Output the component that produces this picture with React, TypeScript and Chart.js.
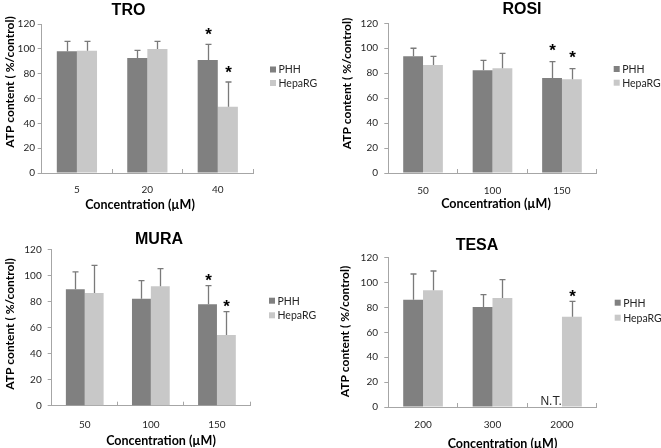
import React, { useEffect, useRef } from 'react';
import { Chart, registerables } from 'chart.js';

Chart.register(...registerables);

// ---------------- data ----------------
const seriesNames = ['PHH', 'HepaRG'];
const yMin = 0;
const yMax = 120;
const yStep = 20;

const troCategories = ['5', '20', '40'];
const troPHH = [98, 92.6, 91];
const troPHHErr = [8, 6.2, 12.6];
const troHepaRG = [98.5, 99.9, 53.4];
const troHepaRGErr = [7.5, 6.1, 19.9];
const troPHHSig = [false, false, true];
const troHepaRGSig = [false, false, true];

const rosiCategories = ['50', '100', '150'];
const rosiPHH = [93.5, 82.3, 76.2];
const rosiPHHErr = [6.5, 8, 13.1];
const rosiHepaRG = [86.6, 83.9, 75.1];
const rosiHepaRGErr = [6.9, 12, 8.5];
const rosiPHHSig = [false, false, true];
const rosiHepaRGSig = [false, false, true];

const muraCategories = ['50', '100', '150'];
const muraPHH = [89.5, 82.3, 78];
const muraPHHErr = [13.5, 13.9, 14.3];
const muraHepaRG = [86.7, 91.8, 54.4];
const muraHepaRGErr = [21.3, 13.6, 17.9];
const muraPHHSig = [false, false, true];
const muraHepaRGSig = [false, false, true];

const tesaCategories = ['200', '300', '2000'];
const tesaPHH = [86.3, 80.4, null];
const tesaPHHErr = [20.6, 9.9, null];
const tesaHepaRG = [93.8, 87.6, 72.6];
const tesaHepaRGErr = [15.5, 14.7, 12.3];
const tesaPHHSig = [false, false, false];
const tesaHepaRGSig = [false, false, true];
const tesaPHHNotTested = [false, false, true];
const notTestedLabel = 'N.T.';

const yAxisTitle = 'ATP content ( %/control)';
const xAxisTitle = 'Concentration (\u00b5M)';

// ---------------- styles ----------------
const phhColor = '#808080';
const hepaColor = '#c8c8c8';
const errColor = '#7a7a7a';
const axisColor = '#a6a6a6';
const textColor = '#262626';

type PanelDef = {
  key: string;
  title: string;
  categories: string[];
  phh: (number | null)[];
  phhErr: (number | null)[];
  phhSig: boolean[];
  hepa: (number | null)[];
  hepaErr: (number | null)[];
  hepaSig: boolean[];
  phhNT?: boolean[];
  box: { x: number; y: number; w: number; h: number };
  plot: { left: number; right: number; top: number; bottom: number };
  titlePos: [number, number];
  yTitlePos: [number, number];
  xTitlePos: [number, number];
  legend: { dx: number; y: number; gap: number };
  xTickPad: number;
  yTickPad: number;
  starGap: number;
};

const panels: PanelDef[] = [
  {
    key: 'tro', title: 'TRO', categories: troCategories,
    phh: troPHH, phhErr: troPHHErr, phhSig: troPHHSig,
    hepa: troHepaRG, hepaErr: troHepaRGErr, hepaSig: troHepaRGSig,
    box: { x: 0, y: 0, w: 330, h: 224 },
    plot: { left: 41.7, right: 253, top: 24, bottom: 173 },
    titlePos: [128.5, 10.5], yTitlePos: [10, 82], xTitlePos: [140, 204.5],
    legend: { dx: 17, y: 69.5, gap: 13.5 }, xTickPad: 15.2, yTickPad: 2.7, starGap: 14,
  },
  {
    key: 'rosi', title: 'ROSI', categories: rosiCategories,
    phh: rosiPHH, phhErr: rosiPHHErr, phhSig: rosiPHHSig,
    hepa: rosiHepaRG, hepaErr: rosiHepaRGErr, hepaSig: rosiHepaRGSig,
    box: { x: 330, y: 0, w: 331, h: 224 },
    plot: { left: 58.3, right: 266.7, top: 23.3, bottom: 173 },
    titlePos: [192, 10], yTitlePos: [16.7, 83.5], xTitlePos: [166, 204],
    legend: { dx: 17, y: 69, gap: 13.7 }, xTickPad: 16, yTickPad: 6.3, starGap: 15.5,
  },
  {
    key: 'mura', title: 'MURA', categories: muraCategories,
    phh: muraPHH, phhErr: muraPHHErr, phhSig: muraPHHSig,
    hepa: muraHepaRG, hepaErr: muraHepaRGErr, hepaSig: muraHepaRGSig,
    box: { x: 0, y: 224, w: 330, h: 224 },
    plot: { left: 51.7, right: 250, top: 25.7, bottom: 181.7 },
    titlePos: [159, 16], yTitlePos: [10, 100], xTitlePos: [161, 216.7],
    legend: { dx: 19, y: 76.7, gap: 14.6 }, xTickPad: 17.3, yTickPad: 6, starGap: 9,
  },
  {
    key: 'tesa', title: 'TESA', categories: tesaCategories,
    phh: tesaPHH, phhErr: tesaPHHErr, phhSig: tesaPHHSig,
    hepa: tesaHepaRG, hepaErr: tesaHepaRGErr, hepaSig: tesaHepaRGSig,
    phhNT: tesaPHHNotTested,
    box: { x: 330, y: 224, w: 331, h: 224 },
    plot: { left: 58.3, right: 266.7, top: 33.7, bottom: 183 },
    titlePos: [147, 22], yTitlePos: [15, 107.5], xTitlePos: [172.5, 220],
    legend: { dx: 18, y: 78.7, gap: 15 }, xTickPad: 16, yTickPad: 6.3, starGap: 8.5,
  },
];

const decorPlugin = {
  id: 'decor',
  afterDatasetsDraw(chart: any, _args: any, opts: any) {
    const ctx = chart.ctx as CanvasRenderingContext2D;
    const yScale = chart.scales.y;
    chart.data.datasets.forEach((ds: any, di: number) => {
      const meta = chart.getDatasetMeta(di);
      meta.data.forEach((el: any, i: number) => {
        const v = ds.data[i];
        const e = ds.errors[i];
        if (v == null || e == null) return;
        const yBar = yScale.getPixelForValue(v);
        const yTop = yScale.getPixelForValue(v + e);
        const x = Math.round(el.x) + 0.5;
        ctx.save();
        ctx.strokeStyle = errColor;
        ctx.lineWidth = 1.3;
        ctx.beginPath();
        ctx.moveTo(x, yBar);
        ctx.lineTo(x, yTop);
        ctx.moveTo(x - 3, yTop);
        ctx.lineTo(x + 3, yTop);
        ctx.stroke();
        if (ds.significant[i]) {
          ctx.fillStyle = '#000';
          ctx.font = 'bold 17px "Liberation Sans", Arial, sans-serif';
          ctx.textAlign = 'center';
          ctx.textBaseline = 'alphabetic';
          ctx.fillText('*', x, yTop - opts.starGap + 9.6);
        }
        ctx.restore();
      });
    });
    // not tested labels
    const ds0 = chart.data.datasets[0];
    if (ds0.notTested) {
      const meta0 = chart.getDatasetMeta(0);
      const meta1 = chart.getDatasetMeta(1);
      ds0.notTested.forEach((nt: boolean, i: number) => {
        if (!nt) return;
        const el1 = meta1.data[i] as any;
        const el0 = meta0.data[i] as any;
        const x = el0 && isFinite(el0.x) ? el0.x : el1.x - el1.width;
        ctx.save();
        ctx.fillStyle = textColor;
        ctx.font = '12px "Liberation Sans", Arial, sans-serif';
        ctx.textAlign = 'center';
        ctx.textBaseline = 'alphabetic';
        ctx.fillText(notTestedLabel, x - 1, yScale.getPixelForValue(0) - 2);
        ctx.restore();
      });
    }
  },
  afterDraw(chart: any, _args: any, opts: any) {
    const ctx = chart.ctx as CanvasRenderingContext2D;
    const area = chart.chartArea;
    ctx.save();
    ctx.fillStyle = '#000';
    ctx.textAlign = 'center';
    ctx.textBaseline = 'middle';
    // title
    ctx.font = 'bold 16px "Liberation Sans", Arial, sans-serif';
    ctx.fillText(opts.title, opts.titlePos[0], opts.titlePos[1]);
    // x title
    ctx.font = 'bold 12.5px Lato, sans-serif';
    ctx.fillText(opts.xTitle, opts.xTitlePos[0], opts.xTitlePos[1]);
    // y title
    ctx.save();
    ctx.translate(opts.yTitlePos[0], opts.yTitlePos[1]);
    ctx.rotate(-Math.PI / 2);
    ctx.font = 'bold 12px Lato, sans-serif';
    ctx.fillText(opts.yTitle, 0, 0);
    ctx.restore();
    // legend
    const lx = area.right + opts.legend.dx;
    chart.data.datasets.forEach((ds: any, i: number) => {
      const cy = opts.legend.y + i * opts.legend.gap;
      ctx.fillStyle = ds.backgroundColor;
      ctx.fillRect(lx, cy - 3, 6, 6);
      ctx.fillStyle = textColor;
      ctx.font = '10.5px Lato, sans-serif';
      ctx.textAlign = 'left';
      ctx.fillText(ds.label, lx + 8.5, cy + 0.5);
    });
    ctx.restore();
  },
};

function Panel({ p }: { p: PanelDef }) {
  const ref = useRef<HTMLCanvasElement | null>(null);
  useEffect(() => {
    if (!ref.current) return;
    const W = p.box.w;
    const H = p.box.h;
    const tickFont = { family: 'Lato, sans-serif', size: 10 };
    const chart = new Chart(ref.current, {
      type: 'bar',
      data: {
        labels: p.categories,
        datasets: [
          {
            label: seriesNames[0], data: p.phh as any, backgroundColor: phhColor,
            borderWidth: 0, categoryPercentage: 0.571, barPercentage: 1,
            errors: p.phhErr, significant: p.phhSig, notTested: p.phhNT,
          } as any,
          {
            label: seriesNames[1], data: p.hepa as any, backgroundColor: hepaColor,
            borderWidth: 0, categoryPercentage: 0.571, barPercentage: 1,
            errors: p.hepaErr, significant: p.hepaSig,
          } as any,
        ],
      },
      options: {
        responsive: false,
        animation: false,
        devicePixelRatio: 1,
        events: [],
        layout: { padding: { left: 0, top: p.plot.top, right: W - p.plot.right, bottom: 0 } },
        plugins: {
          legend: { display: false },
          title: { display: false },
          tooltip: { enabled: false },
          decor: {
            title: p.title, titlePos: p.titlePos, yTitle: yAxisTitle, yTitlePos: p.yTitlePos,
            xTitle: xAxisTitle, xTitlePos: p.xTitlePos, legend: p.legend, starGap: p.starGap,
          },
        } as any,
        scales: {
          x: {
            type: 'category',
            offset: true,
            grid: { offset: true, drawOnChartArea: false, drawTicks: true, tickLength: -4, color: axisColor, lineWidth: 1 },
            border: { color: axisColor, width: 1 },
            ticks: { font: tickFont, color: textColor, padding: p.xTickPad, maxRotation: 0, autoSkip: false },
            afterFit: (s: any) => { s.height = H - p.plot.bottom; },
          },
          y: {
            min: yMin,
            max: yMax,
            ticks: { stepSize: yStep, font: tickFont, color: textColor, padding: p.yTickPad },
            grid: { drawOnChartArea: false, drawTicks: true, tickLength: 4, color: axisColor, lineWidth: 1 },
            border: { color: axisColor, width: 1 },
            afterFit: (s: any) => { s.width = p.plot.left; },
          },
        },
      } as any,
      plugins: [decorPlugin as any],
    });
    return () => chart.destroy();
  }, [p]);
  return (
    <canvas
      ref={ref}
      width={p.box.w}
      height={p.box.h}
      style={{ position: 'absolute', left: p.box.x, top: p.box.y, width: p.box.w, height: p.box.h }}
    />
  );
}

export default function App() {
  return (
    <div style={{ position: 'absolute', left: 0, top: 0, width: 661, height: 448, background: '#fff', overflow: 'hidden' }}>
      {panels.map((p) => (
        <Panel key={p.key} p={p} />
      ))}
    </div>
  );
}
